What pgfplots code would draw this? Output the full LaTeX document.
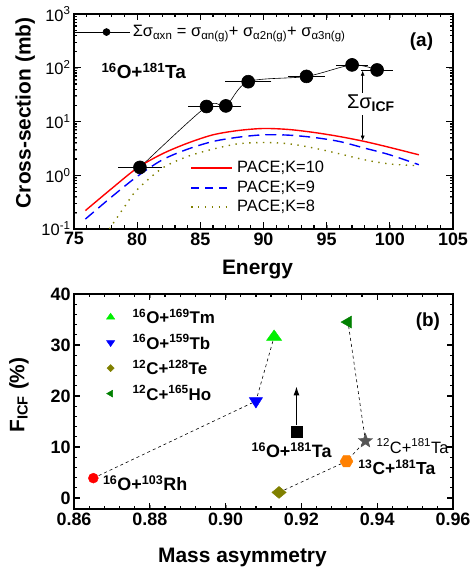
\documentclass[border=0pt]{standalone}
\usepackage{fontspec}
\setmainfont{Liberation Sans}
\usepackage{pgfplots}
\pgfplotsset{compat=1.18}
\usetikzlibrary{arrows.meta}

\definecolor{pacered}{RGB}{255,0,0}
\definecolor{paceblue}{RGB}{0,0,255}
\definecolor{paceolive}{RGB}{128,128,0}
\definecolor{tmgreen}{RGB}{0,240,0}
\definecolor{hogreen}{RGB}{0,128,0}
\definecolor{c13orange}{RGB}{255,128,0}
\definecolor{stargray}{RGB}{85,85,85}

% filled hexagon and star marks
\pgfdeclareplotmark{hexagon*}{%
  \pgfpathmoveto{\pgfpointpolar{0}{\pgfplotmarksize}}%
  \pgfpathlineto{\pgfpointpolar{60}{\pgfplotmarksize}}%
  \pgfpathlineto{\pgfpointpolar{120}{\pgfplotmarksize}}%
  \pgfpathlineto{\pgfpointpolar{180}{\pgfplotmarksize}}%
  \pgfpathlineto{\pgfpointpolar{240}{\pgfplotmarksize}}%
  \pgfpathlineto{\pgfpointpolar{300}{\pgfplotmarksize}}%
  \pgfpathclose\pgfusepathqfillstroke}
\pgfdeclareplotmark{fstar}{%
  \pgfpathmoveto{\pgfpointpolar{90}{\pgfplotmarksize}}%
  \pgfpathlineto{\pgfpointpolar{126}{0.42\pgfplotmarksize}}%
  \pgfpathlineto{\pgfpointpolar{162}{\pgfplotmarksize}}%
  \pgfpathlineto{\pgfpointpolar{198}{0.42\pgfplotmarksize}}%
  \pgfpathlineto{\pgfpointpolar{234}{\pgfplotmarksize}}%
  \pgfpathlineto{\pgfpointpolar{270}{0.42\pgfplotmarksize}}%
  \pgfpathlineto{\pgfpointpolar{306}{\pgfplotmarksize}}%
  \pgfpathlineto{\pgfpointpolar{342}{0.42\pgfplotmarksize}}%
  \pgfpathlineto{\pgfpointpolar{18}{\pgfplotmarksize}}%
  \pgfpathlineto{\pgfpointpolar{54}{0.42\pgfplotmarksize}}%
  \pgfpathclose\pgfusepathqfillstroke}

\tikzset{tk/.style={black, line width=1.2pt}}
\pgfplotsset{
  figax/.style={
    scale only axis,
    width=379bp, height=215bp,
    axis line style={line width=2pt},
    tick label style={font=\bfseries\fontsize{18}{18}\selectfont},
    label style={font=\bfseries\fontsize{21}{21}\selectfont},
    /pgf/number format/assume math mode=true,
  },
}

\begin{document}
\begin{tikzpicture}
\path[draw=none] (0,0) rectangle (473bp,571bp);

% ---------- panel (a)
\begin{axis}[
  figax,
  at={(74bp,342bp)}, anchor=south west,
  xmin=75, xmax=105, ymode=log, ymin=0.1, ymax=1000,
  xtick={75,80,85,90,95,100,105},
  ytick={0.1,1,10,100,1000},
  yticklabels={10\textsuperscript{-1},10\textsuperscript{0},10\textsuperscript{1},10\textsuperscript{2},10\textsuperscript{3}},
  yticklabel style={font=\fontsize{16.5}{16.5}\selectfont},
  xlabel={Energy}, ylabel={Cross-section (mb)},
  xlabel style={at={(axis description cs:0.5,0)}, anchor=center, yshift=-41bp, xshift=-6bp},
  ylabel style={at={(axis description cs:-0.129,0.54)}, anchor=center},
]
\addplot[black, line width=0.6pt, smooth, tension=0.5, mark=*, mark size=6.5pt,
  error bars/.cd, x dir=both, x explicit,
  error bar style={line width=0.6pt},
  error mark options={mark size=3pt, line width=0.6pt}]
  coordinates {
  (80.22,1.4) +- (1.5,0)
  (85.49,19) +- (1.2,0)
  (87.02,19.5) +- (1.0,0)
  (88.79,55) +- (1.6,0)
  (93.40,69) +- (1.2,0)
  (97.01,113) +- (1.0,0)
  (98.99,91) +- (1.0,0)
  };
\addplot[pacered, line width=1.4pt, smooth] coordinates {
  (75.9,0.22) (78,0.57) (80,1.36) (82,2.51) (84,3.96) (86,5.65) (88,6.8)
  (90,7.41) (92,7.1) (94,6.25) (96,5.26) (98,4.25) (100,3.29) (102.3,2.40)};
\addplot[paceblue, line width=1.4pt, smooth, dash pattern=on 11bp off 6bp] coordinates {
  (75.9,0.153) (78,0.40) (80,0.95) (82,1.94) (84,3.06) (86,4.25) (88,5.1)
  (90,5.65) (92,5.57) (94,5.04) (96,4.25) (98,3.2) (100,2.40) (102.3,1.57)};
\addplot[paceolive, line width=1.4pt, smooth, dash pattern=on 1.4bp off 5.5bp] coordinates {
  (77.8,0.1) (79,0.26) (80,0.54) (82,1.36) (84,2.24) (86,3.06) (88,3.85)
  (90,4.07) (92,3.85) (94,3.2) (96,2.51) (98,1.94) (100,1.62) (102.3,1.50)};
% ticks, inside, on all four sides (end points in data units)
\pgfplotsinvokeforeach{80,85,90,95,100}{
  \draw[tk] (axis cs:#1,0.1) -- (axis cs:#1,0.1321);
  \draw[tk] (axis cs:#1,1000) -- (axis cs:#1,757);}
\pgfplotsinvokeforeach{76,77,78,79,81,82,83,84,86,87,88,89,91,92,93,94,96,97,98,99,101,102,103,104}{
  \draw[tk] (axis cs:#1,0.1) -- (axis cs:#1,0.1162);
  \draw[tk] (axis cs:#1,1000) -- (axis cs:#1,860.6);}
\pgfplotsinvokeforeach{1,10,100}{
  \draw[tk] (axis cs:75,#1) -- (axis cs:75.515,#1);
  \draw[tk] (axis cs:105,#1) -- (axis cs:104.485,#1);}
\pgfplotsinvokeforeach{0.2,0.3,0.4,0.5,0.6,0.7,0.8,0.9,2,3,4,5,6,7,8,9,20,30,40,50,60,70,80,90,200,300,400,500,600,700,800,900}{
  \draw[tk] (axis cs:75,#1) -- (axis cs:75.277,#1);
  \draw[tk] (axis cs:105,#1) -- (axis cs:104.723,#1);}
% key of the PACE curves
\draw[pacered, line width=1.4pt] (rel axis cs:0.309,0.284) -- (rel axis cs:0.417,0.284);
\draw[paceblue, line width=1.4pt, dash pattern=on 8bp off 6bp] (rel axis cs:0.309,0.191) -- (rel axis cs:0.417,0.191);
\draw[paceolive, line width=1.4pt, dash pattern=on 1.4bp off 5.5bp] (rel axis cs:0.309,0.102) -- (rel axis cs:0.417,0.102);
\node[anchor=west, font=\fontsize{16.5}{16.5}\selectfont, inner sep=0pt] at (rel axis cs:0.430,0.284) {PACE;K=10};
\node[anchor=west, font=\fontsize{16.5}{16.5}\selectfont, inner sep=0pt] at (rel axis cs:0.430,0.191) {PACE;K=9};
\node[anchor=west, font=\fontsize{16.5}{16.5}\selectfont, inner sep=0pt] at (rel axis cs:0.430,0.102) {PACE;K=8};
\node[anchor=base west, font=\bfseries\fontsize{19}{19}\selectfont] at (axis cs:76.9,62) {\textsuperscript{16}O+\textsuperscript{181}Ta};
\node[anchor=base east, font=\bfseries\fontsize{19}{19}\selectfont] at (axis cs:103.7,247) {(a)};
\node[anchor=base west, font=\fontsize{20}{20}\selectfont, inner sep=0pt] at (axis cs:96.6,17.5) {Σσ\textsubscript{\bfseries ICF}};
\draw[-{Latex[length=5pt,width=4pt]}, line width=0.6pt] (axis cs:97.85,34) -- (axis cs:97.85,88);
\draw[-{Latex[length=5pt,width=4pt]}, line width=0.6pt] (axis cs:97.85,13) -- (axis cs:97.85,4.4);
\end{axis}

% key of the measured sum
\begin{axis}[
  at={(74bp,342bp)}, anchor=south west, scale only axis, width=379bp, height=215bp,
  hide axis, xmin=0, xmax=1, ymin=0, ymax=1,
  legend style={at={(rel axis cs:0.0,0.916)}, anchor=west, draw=none, fill=none,
    inner sep=0pt, font=\fontsize{16.5}{16.5}\selectfont},
  legend image code/.code={\draw[mark repeat=2, mark phase=2, #1] plot coordinates {(0bp,0bp) (32bp,0bp) (56bp,0bp)};},
]
\addlegendimage{black, line width=0.6pt, mark=*, mark size=3.5pt}
\addlegendentry{Σσ\textsubscript{αxn} = σ\textsubscript{αn(g)}+ σ\textsubscript{α2n(g)}+ σ\textsubscript{α3n(g)}}
\end{axis}

% ---------- panel (b)
\begin{axis}[
  figax,
  at={(74bp,62bp)}, anchor=south west,
  xmin=0.86, xmax=0.96, ymin=-2.15, ymax=40,
  xtick={0.86,0.88,0.90,0.92,0.94,0.96},
  ytick={0,10,20,30,40},
  xticklabel style={/pgf/number format/.cd, fixed, fixed zerofill, precision=2},
  xlabel={Mass asymmetry}, ylabel={F\textsubscript{ICF} (\%)},
  xlabel style={at={(axis description cs:0.5,0)}, anchor=center, yshift=-48bp, xshift=-21bp},
  ylabel style={at={(axis description cs:-0.145,0.53)}, anchor=center},
  legend style={at={(rel axis cs:0.075,0.94)}, anchor=north west, draw=none, fill=none,
    inner sep=0pt, row sep=5.5bp, font=\bfseries\fontsize{17}{20}\selectfont},
  legend cell align=left,
  legend image code/.code={\draw[#1] plot coordinates {(0bp,0bp)}; \path[draw=none] (-8bp,0bp) -- (20bp,0bp);},
]
\addplot[black, dashed, line width=0.6pt, forget plot] coordinates {(0.8651,3.9) (0.9080,19.0) (0.9128,31.6)};
\addplot[black, dashed, line width=0.6pt, forget plot] coordinates {(0.9141,1.1) (0.9319,7.2) (0.9369,11.2) (0.9323,34.5)};
\addplot[only marks, mark=*, red, mark size=5pt, forget plot] coordinates {(0.8651,3.9)};
\addplot[only marks, mark=triangle*, tmgreen, mark size=7pt, mark options={xscale=1.25}, forget plot] coordinates {(0.9128,31.6)};
\addplot[only marks, mark=triangle*, paceblue, mark size=7pt, mark options={rotate=180, xscale=1.1}, forget plot] coordinates {(0.9080,19.0)};
\addplot[only marks, mark=diamond*, paceolive, mark size=6pt, mark options={xscale=1.6}, forget plot] coordinates {(0.9141,1.1)};
\addplot[only marks, mark=triangle*, hogreen, mark size=7pt, mark options={rotate=90}, forget plot] coordinates {(0.9323,34.5)};
\addplot[only marks, mark=hexagon*, c13orange, mark size=6.5pt, forget plot] coordinates {(0.9319,7.2)};
\addplot[only marks, mark=fstar, stargray, mark size=7.5pt, forget plot] coordinates {(0.9369,11.2)};
\addplot[only marks, mark=square*, black, mark size=5.5pt, forget plot] coordinates {(0.9187,13.0)};
\addlegendimage{only marks, mark=triangle*, tmgreen, mark size=4pt, mark options={xscale=1.2}}
\addlegendentry{\textsuperscript{16}O+\textsuperscript{169}Tm}
\addlegendimage{only marks, mark=triangle*, paceblue, mark size=4pt, mark options={rotate=180, xscale=1.2}}
\addlegendentry{\textsuperscript{16}O+\textsuperscript{159}Tb}
\addlegendimage{only marks, mark=diamond*, paceolive, mark size=3.5pt, mark options={xscale=1.4}}
\addlegendentry{\textsuperscript{12}C+\textsuperscript{128}Te}
\addlegendimage{only marks, mark=triangle*, hogreen, mark size=4pt, mark options={rotate=90}}
\addlegendentry{\textsuperscript{12}C+\textsuperscript{165}Ho}
% ticks, inside, on all four sides (end points in data units)
\pgfplotsinvokeforeach{0.88,0.90,0.92,0.94}{
  \draw[tk] (axis cs:#1,-2.15) -- (axis cs:#1,-0.876);
  \draw[tk] (axis cs:#1,40) -- (axis cs:#1,38.726);}
\pgfplotsinvokeforeach{0.864,0.868,0.872,0.876,0.884,0.888,0.892,0.896,0.904,0.908,0.912,0.916,0.924,0.928,0.932,0.936,0.944,0.948,0.952,0.956}{
  \draw[tk] (axis cs:#1,-2.15) -- (axis cs:#1,-1.464);
  \draw[tk] (axis cs:#1,40) -- (axis cs:#1,39.314);}
\pgfplotsinvokeforeach{0,10,20,30}{
  \draw[tk] (axis cs:0.86,#1) -- (axis cs:0.861715,#1);
  \draw[tk] (axis cs:0.96,#1) -- (axis cs:0.958285,#1);}
\pgfplotsinvokeforeach{2,4,6,8,12,14,16,18,22,24,26,28,32,34,36,38}{
  \draw[tk] (axis cs:0.86,#1) -- (axis cs:0.860923,#1);
  \draw[tk] (axis cs:0.96,#1) -- (axis cs:0.959077,#1);}
\draw[-{Latex[length=9pt,width=6pt]}, line width=1.3pt] (axis cs:0.9187,14.3) -- (axis cs:0.9187,21.9);
\node[anchor=base west, font=\bfseries\fontsize{18}{18}\selectfont, inner sep=0pt] at (axis cs:0.8676,1.5) {\textsuperscript{16}O+\textsuperscript{103}Rh};
\node[anchor=base west, font=\bfseries\fontsize{18}{18}\selectfont, inner sep=0pt] at (axis cs:0.9068,7.9) {\textsuperscript{16}O+\textsuperscript{181}Ta};
\node[anchor=base west, font=\fontsize{16.5}{16.5}\selectfont, inner sep=0pt] at (axis cs:0.9398,8.8) {\textsuperscript{12}C+\textsuperscript{181}Ta};
\node[anchor=base west, font=\bfseries\fontsize{17.5}{17.5}\selectfont, inner sep=0pt] at (axis cs:0.9350,4.56) {\textsuperscript{13}C+\textsuperscript{181}Ta};
\node[anchor=base east, font=\bfseries\fontsize{19}{19}\selectfont] at (axis cs:0.9575,33.6) {(b)};
\end{axis}
\end{tikzpicture}
\end{document}
